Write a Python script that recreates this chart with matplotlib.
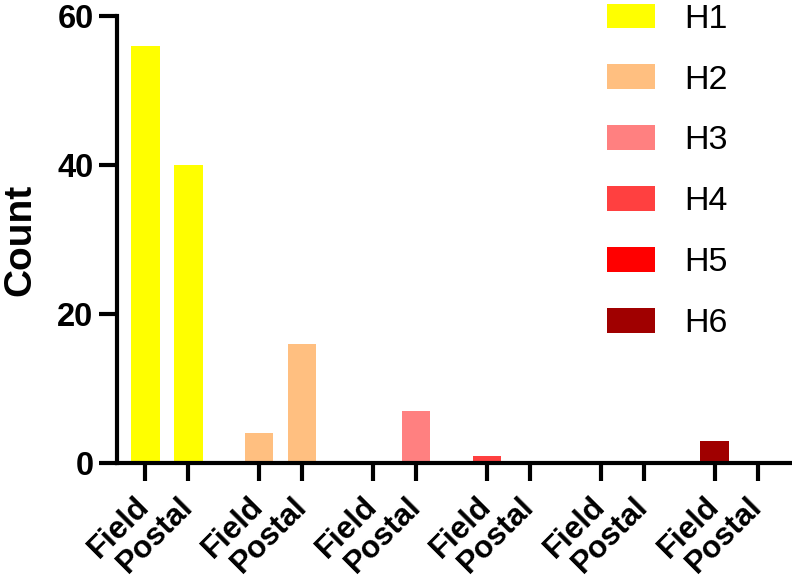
import numpy as np
import matplotlib
matplotlib.use("Agg")
import matplotlib.pyplot as plt
from matplotlib.patches import Patch

plt.rcParams['font.family'] = ['Liberation Sans', 'DejaVu Sans']

# haplotype groups, each with a Field and a Postal count
groups = ['H1', 'H2', 'H3', 'H4', 'H5', 'H6']
field = [56, 4, 0, 1, 0, 3]
postal = [40, 16, 7, 0, 0, 0]
colors = ['#FFFF00', '#FFBF80', '#FF8080', '#FF4040', '#FF0000', '#A00000']
sources = ['Field', 'Postal']

fig = plt.figure(figsize=(7.92, 5.85), dpi=100)
ax = fig.add_axes([0.148, 0.2085, 0.849, 0.764])

gap = 2.65
width = 0.67
ticks = []
labels = []
for i, g in enumerate(groups):
    x0 = i * gap
    ax.bar(x0, field[i], width, color=colors[i], edgecolor='none')
    ax.bar(x0 + 1, postal[i], width, color=colors[i], edgecolor='none')
    ticks += [x0, x0 + 1]
    labels += sources

ax.set_xlim(-0.65, (len(groups) - 1) * gap + 1 + 0.74)
ax.set_ylim(0, 60)
ax.set_yticks([0, 20, 40, 60])
ax.set_xticks(ticks)
ax.set_xticklabels(labels, rotation=45, ha='right', va='center',
                   rotation_mode='anchor', fontsize=22.5, fontweight='bold')
for t in ax.get_yticklabels():
    t.set_fontsize(23.5)
    t.set_fontweight('bold')
ax.set_ylabel('Count', fontsize=28, fontweight='bold', labelpad=13.5)

for s in ['top', 'right']:
    ax.spines[s].set_visible(False)
for s in ['left', 'bottom']:
    ax.spines[s].set_linewidth(3)
ax.tick_params(axis='both', width=3, length=13, pad=4)
ax.tick_params(axis='x', pad=15)

handles = [Patch(facecolor=c, edgecolor='none') for c in colors]
fig.legend(handles, groups, loc='upper left', bbox_to_anchor=(0.766, 0.994),
           frameon=False, fontsize=24.5, handlelength=1.42, handleheight=0.72,
           handletextpad=0.85, labelspacing=0.88, borderpad=0.0,
           borderaxespad=0.0)

fig.savefig('out.png', dpi=100)
